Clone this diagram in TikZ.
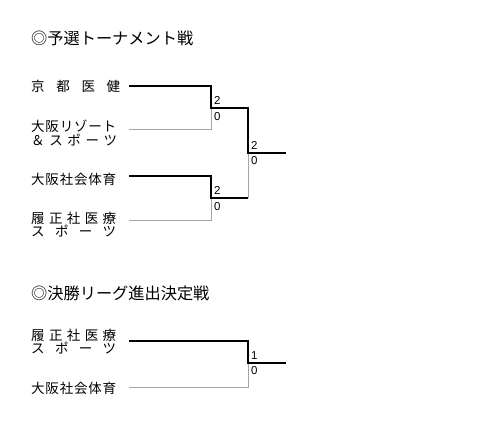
\documentclass[tikz,border=0pt]{standalone}
\usepackage{fontspec}
\setmainfont{Liberation Sans}
\newfontfamily\jp{Noto Sans CJK JP}
\definecolor{lgray}{RGB}{165,165,165}
\newcommand{\spread}[2]{\makebox[#1pt][l]{#2}}
\begin{document}
\begin{tikzpicture}[x=1pt,y=-1pt,
  win/.style={line width=2pt,black},
  lose/.style={line width=1pt,lgray},
  lab/.style={anchor=west,inner sep=0pt,font=\jp\fontsize{13.5}{14}\selectfont},
  ttl/.style={anchor=west,inner sep=0pt,font=\jp\fontsize{16.2}{17}\selectfont},
  sc/.style={anchor=west,inner sep=0pt,font=\fontsize{11.5}{12}\selectfont}]
\useasboundingbox (0,0) rectangle (502,427);
% titles
\node[ttl] (t1) at (31,38) {◎予選トーナメント戦};
\node[ttl] (t2) at (31,293) {◎決勝リーグ進出決定戦};
% labels
\node[lab] (a) at (31,86) {\spread{89}{京\hfill 都\hfill 医\hfill 健}};
\node[lab] (b1) at (31,126) {\spread{85}{大\hfill 阪\hfill リ\hfill ゾ\hfill ー\hfill ト}};
\node[lab] (b2) at (31,140) {\spread{86}{＆\hfill ス\hfill ポ\hfill ー\hfill ツ}};
\node[lab] (c) at (31,179) {\spread{85}{大\hfill 阪\hfill 社\hfill 会\hfill 体\hfill 育}};
\node[lab] (d1) at (31,218) {\spread{85}{履\hfill 正\hfill 社\hfill 医\hfill 療}};
\node[lab] (d2) at (31,231) {\spread{85}{ス\hfill ポ\hfill ー\hfill ツ}};
\node[lab] (e1) at (31,335) {\spread{85}{履\hfill 正\hfill 社\hfill 医\hfill 療}};
\node[lab] (e2) at (31,348) {\spread{85}{ス\hfill ポ\hfill ー\hfill ツ}};
\node[lab] (f) at (31,388) {\spread{85}{大\hfill 阪\hfill 社\hfill 会\hfill 体\hfill 育}};
% coordinates
\coordinate (a0) at (129,86);   \coordinate (a1) at (211,86);
\coordinate (b0) at (129,130);  \coordinate (b1e) at (211,130);
\coordinate (m1) at (211,108);  \coordinate (m1e) at (248,108);
\coordinate (c0) at (129,176);  \coordinate (c1) at (211,176);
\coordinate (d0) at (129,221);  \coordinate (d1e) at (211,221);
\coordinate (m2) at (211,198);  \coordinate (m2e) at (248,198);
\coordinate (f0) at (248,153);  \coordinate (f1) at (286,153);
\coordinate (e0) at (129,341);  \coordinate (e1e) at (248,341);
\coordinate (g0) at (129,387);  \coordinate (g1) at (248,387);
\coordinate (h0) at (248,363);  \coordinate (h1) at (286,363);
% losers (gray) first
\draw[lose] (b0) -- (b1e) -- (m1);
\draw[lose] (d0) -- (d1e) -- (m2);
\draw[lose] (m2e) -- (f0);
\draw[lose] (g0) -- (g1) -- (h0);
% winners
\draw[win] (a0) -- (a1) -- (m1) -- (m1e) -- (f0) -- (f1);
\draw[win] (c0) -- (c1) -- (m2) -- (m2e);
\draw[win] (e0) -- (e1e) -- (h0) -- (h1);
% scores
\node[sc] (s1a) at (214,100) {2};
\node[sc] (s1b) at (214,117) {0};
\node[sc] (s2a) at (214,190) {2};
\node[sc] (s2b) at (214,207) {0};
\node[sc] (s3a) at (251,145) {2};
\node[sc] (s3b) at (251,161) {0};
\node[sc] (s4a) at (251,356) {1};
\node[sc] (s4b) at (251,371) {0};
\end{tikzpicture}
\end{document}
